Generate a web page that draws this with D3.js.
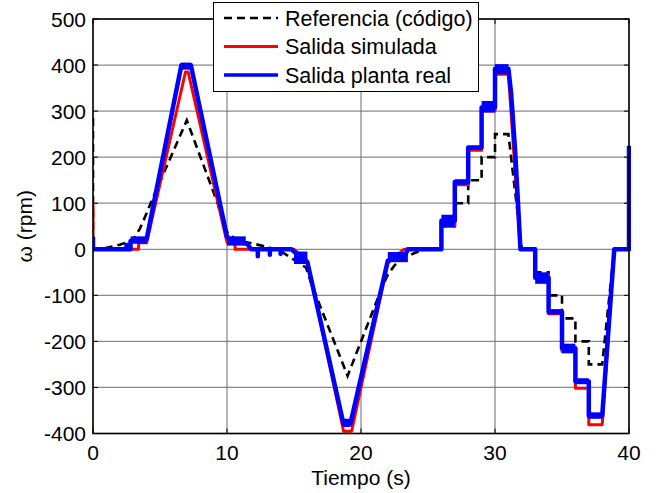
<!DOCTYPE html>
<html>
<head>
<meta charset="utf-8">
<script src="https://cdn.jsdelivr.net/npm/d3@7"></script>
<style>
  body { margin: 0; background: #fff; }
  text { font-family: "Liberation Sans", Arial, sans-serif; fill: #000; }
</style>
</head>
<body>
<div id="chart"></div>
<script>
// values (time in s, speed in rpm)
const xTicks = [0, 10, 20, 30, 40]
const yTicks = [-400, -300, -200, -100, 0, 100, 200, 300, 400, 500]

const refT = [0, 0, 0.5, 1, 1.5, 2, 2.5, 3, 3.5, 4, 4.3, 7, 9.3, 9.6, 10, 10.5, 11, 12, 13, 14, 14.7, 15.9, 16.3, 19, 21.5, 22, 22.5, 23, 24, 24.8, 26, 26, 27, 27, 28, 28, 29, 29, 30, 30, 31, 32, 33, 33, 34, 34, 35, 35, 36, 36, 37, 37, 38, 38.9, 40]
const refV = [285, 0, 1, 3, 6, 10, 15, 21, 45, 78, 100, 280, 100, 70, 38, 25, 18, 12, 5, -4, -17, -40, -75, -275, -88, -55, -35, -22, -8, 0, 0, 50, 50, 100, 100, 150, 150, 200, 200, 250, 250, 0, 0, -50, -50, -100, -100, -150, -150, -200, -200, -250, -250, 0, 0]

const simT = [0, 0, 3.4, 3.4, 4.0, 6.9, 7.1, 10.0, 10.6, 10.6, 15.0, 16.0, 18.7, 19.3, 22.0, 23.0, 23.2, 26, 26, 27, 27, 28, 28, 29, 29, 30, 30, 31, 31.9, 33, 33, 34, 34, 35, 35, 36, 36, 37, 37, 38, 38.9, 40]
const simV = [100, 0, 0, 14, 14, 385, 385, 15, 15, 0, 0, -25, -395, -395, -30, -5, 0, 0, 50, 50, 140, 140, 215, 215, 300, 300, 380, 380, 0, 0, -55, -55, -140, -140, -222, -222, -302, -302, -381, -381, 0, 0]

const realT = [0, 0, 2.5, 2.5, 2.5, 2.8, 2.8, 4.0, 6.6, 7.3, 10.0, 10.4, 11.5, 11.8, 12.3, 12.3, 12.3, 13.2, 13.2, 13.2, 14.0, 14.0, 14.0, 14.8, 15.3, 16.0, 18.7, 19.2, 22.0, 22.5, 23.3, 23.5, 26, 26, 27, 27, 28, 28, 29, 29, 30, 30, 31, 31.2, 31.5, 31.7, 31.9, 33, 33, 34, 34, 35, 35, 36, 36, 37, 37, 38, 38.9, 40, 40]
const realV = [27, 0, 0, 10, 0, 0, 18, 22, 400, 400, 27, 18, 12, 0, 0, -15, 0, 0, -12, 0, 0, -10, 0, 0, -12, -28, -380, -380, -25, -18, -12, 0, 0, 62, 62, 146, 146, 221, 221, 308, 308, 392, 392, 340, 215, 110, 0, 0, -62, -62, -136, -136, -215, -215, -287, -287, -362, -362, 0, 0, 225]

// noisy plateaus of the real plant: [t0, t1, low, high]
const realBands = [
  [2.8, 4.0, 12, 28], [6.6, 7.3, 390, 405], [10.0, 11.4, 8, 28],
  [15.0, 16.0, -32, -5], [18.7, 19.2, -386, -368], [22.0, 23.5, -28, -6],
  [26, 27, 48, 75], [27, 28, 140, 152], [29, 30, 297, 322], [30, 31, 380, 402],
  [33, 34, -75, -50], [34, 35, -141, -130], [35, 36, -226, -205],
  [36, 37, -293, -280], [37, 38, -368, -354]
]

const seriesNames = ['Referencia (código)', 'Salida simulada', 'Salida planta real']

const W = 661, H = 493
const margin = { left: 93, right: 32, top: 19, bottom: 59.5 }

const svg = d3.select('#chart').append('svg')
  .attr('width', W)
  .attr('height', H)
  .style('background', '#fff')

const x = d3.scaleLinear().domain([0, 40]).range([margin.left, W - margin.right])
const y = d3.scaleLinear().domain([-400, 500]).range([H - margin.bottom, margin.top])

svg.append('clipPath').attr('id', 'plotclip')
  .append('rect')
  .attr('x', x(0)).attr('y', y(500) - 2)
  .attr('width', x(40) - x(0) + 2).attr('height', y(-400) - y(500) + 2)

// grid
const grid = svg.append('g')
grid.selectAll('.hg').data(yTicks).enter().append('line')
  .attr('x1', x(0)).attr('x2', x(40))
  .attr('y1', d => y(d)).attr('y2', d => y(d))
  .attr('stroke', '#8a8a8a').attr('stroke-width', 1.3)
grid.selectAll('.vg').data(xTicks).enter().append('line')
  .attr('y1', y(-400)).attr('y2', y(500))
  .attr('x1', d => x(d)).attr('x2', d => x(d))
  .attr('stroke', '#6a6a6a').attr('stroke-width', 1)

const plot = svg.append('g').attr('clip-path', 'url(#plotclip)')

const line = d3.line()
  .x(d => x(d[0]))
  .y(d => y(d[1]))

const zip = (ts, vs) => ts.map((t, i) => [t, vs[i]])

plot.append('path')
  .datum(zip(refT, refV))
  .attr('d', line)
  .attr('fill', 'none')
  .attr('stroke', '#000')
  .attr('stroke-width', 2.6)
  .attr('stroke-dasharray', '8,5')

plot.append('path')
  .datum(zip(simT, simV))
  .attr('d', line)
  .attr('fill', 'none')
  .attr('stroke', '#ff0000')
  .attr('stroke-width', 3)
  .attr('stroke-linejoin', 'round')

plot.selectAll('.band').data(realBands).enter().append('rect')
  .attr('x', d => x(d[0]))
  .attr('width', d => x(d[1]) - x(d[0]))
  .attr('y', d => y(d[3]))
  .attr('height', d => y(d[2]) - y(d[3]))
  .attr('fill', '#0000ff')

plot.append('path')
  .datum(zip(realT, realV))
  .attr('d', line)
  .attr('fill', 'none')
  .attr('stroke', '#0000ff')
  .attr('stroke-width', 4.5)
  .attr('stroke-linejoin', 'round')

// axes box with inward ticks on all sides
const tickLen = 5
const axisG = svg.append('g')
axisG.append('rect')
  .attr('x', x(0)).attr('y', y(500))
  .attr('width', x(40) - x(0)).attr('height', y(-400) - y(500))
  .attr('fill', 'none').attr('stroke', '#000').attr('stroke-width', 1.5)

axisG.selectAll('.xt').data(xTicks).enter().append('path')
  .attr('d', d => `M${x(d)},${y(-400)}v${-tickLen}M${x(d)},${y(500)}v${tickLen}`)
  .attr('stroke', '#000').attr('stroke-width', 1)
axisG.selectAll('.yt').data(yTicks).enter().append('path')
  .attr('d', d => `M${x(0)},${y(d)}h${tickLen}M${x(40)},${y(d)}h${-tickLen}`)
  .attr('stroke', '#000').attr('stroke-width', 1)

axisG.selectAll('.xl').data(xTicks).enter().append('text')
  .attr('x', d => x(d))
  .attr('y', y(-400) + 26)
  .attr('text-anchor', 'middle')
  .style('font-size', '21px')
  .text(d => d)

axisG.selectAll('.yl').data(yTicks).enter().append('text')
  .attr('x', x(0) - 7)
  .attr('y', d => y(d))
  .attr('dy', '0.36em')
  .attr('text-anchor', 'end')
  .style('font-size', '21px')
  .text(d => d)

svg.append('text')
  .attr('x', (x(0) + x(40)) / 2)
  .attr('y', 485)
  .attr('text-anchor', 'middle')
  .style('font-size', '21px')
  .text('Tiempo (s)')

svg.append('text')
  .attr('transform', `translate(32,${(y(500) + y(-400)) / 2}) rotate(-90)`)
  .attr('text-anchor', 'middle')
  .style('font-size', '21px')
  .text('ω (rpm)')

// legend
const legend = svg.append('g')
legend.append('rect')
  .attr('x', 213.5).attr('y', 2.5)
  .attr('width', 265).attr('height', 89)
  .attr('fill', '#fff').attr('stroke', '#000').attr('stroke-width', 1)

const legStyles = [
  { color: '#000', dash: '8,5', width: 2.6 },
  { color: '#ff0000', dash: null, width: 3 },
  { color: '#0000ff', dash: null, width: 3.5 }
]
const legRows = legend.selectAll('.row').data(seriesNames).enter().append('g')
  .attr('transform', (d, i) => `translate(0,${18 + i * 28.5})`)
legRows.append('line')
  .attr('x1', 224).attr('x2', 278)
  .attr('y1', 0).attr('y2', 0)
  .attr('stroke', (d, i) => legStyles[i].color)
  .attr('stroke-width', (d, i) => legStyles[i].width)
  .attr('stroke-dasharray', (d, i) => legStyles[i].dash)
legRows.append('text')
  .attr('x', 285)
  .attr('y', 0)
  .attr('dy', '0.36em')
  .style('font-size', '21.5px')
  .text(d => d)
</script>
</body>
</html>
